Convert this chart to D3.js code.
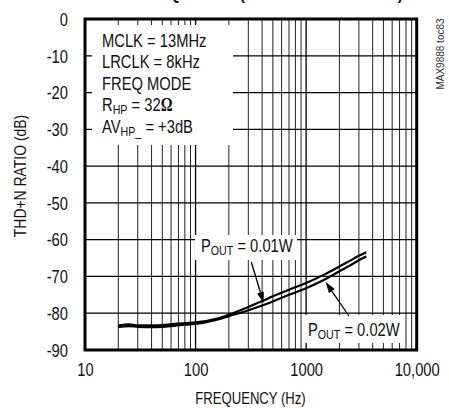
<!DOCTYPE html>
<html>
<head>
<meta charset="utf-8">
<script src="https://cdn.jsdelivr.net/npm/d3@7/dist/d3.min.js"></script>
<style>
  html, body { margin: 0; padding: 0; background: #fff; }
  svg { display: block; }
  text { font-family: "Liberation Sans", Arial, sans-serif; fill: #111; }
</style>
</head>
<body>
<svg id="chart" width="449" height="408"></svg>
<script>
// ---- data ----
const freqs = [20, 25, 30, 40, 50, 60, 80, 100, 150, 200, 300, 400, 500, 700, 1000, 1500, 2000, 2500, 3000, 3500];
const thdn001 = [-83.3, -83.0, -83.3, -83.3, -83.2, -83.0, -82.7, -82.5, -81.6, -80.4, -78.3, -76.7, -75.4, -73.6, -71.8, -69.3, -67.3, -65.7, -64.4, -63.4];
const thdn002 = [-83.7, -83.5, -83.7, -83.8, -83.7, -83.5, -83.1, -82.9, -81.9, -80.8, -79.2, -77.9, -76.8, -75.0, -73.2, -70.7, -68.6, -67.0, -65.6, -64.6];
const xTickValues = [10, 100, 1000, 10000];
const xTickLabels = ["10", "100", "1000", "10,000"];
const yTickValues = [0, -10, -20, -30, -40, -50, -60, -70, -80, -90];
const yTickLabels = ["0", "-10", "-20", "-30", "-40", "-50", "-60", "-70", "-80", "-90"];
const conditions = ["MCLK = 13MHz", "LRCLK = 8kHz", "FREQ MODE"];

const svg = d3.select("#chart");
const L = 85, R = 416.7, T = 19, B = 350;
const x = d3.scaleLog().domain([10, 10000]).range([L, R]);
const y = d3.scaleLinear().domain([0, -90]).range([T, B]);
const SX = 0.82; // narrow typeface factor

// title (mostly cut off at the top)
svg.append("text").attr("x", 110).attr("y", -0.5)
  .attr("textLength", 293).attr("lengthAdjust", "spacingAndGlyphs")
  .style("font-weight", "bold").style("font-size", "17px")
  .text("vs. FREQUENCY (HEADPHONE MODE)");

// grid
const minor = [];
for (let d = 10; d < 10000; d *= 10) for (let k = 1; k <= 9; k++) { const v = d * k; if (v > 10 && v < 10000) minor.push(v); }
svg.append("g").selectAll("line").data(minor).join("line")
  .attr("x1", d => x(d)).attr("x2", d => x(d)).attr("y1", T).attr("y2", B)
  .attr("stroke", d => (d === 100 || d === 1000) ? "#000" : "#222")
  .attr("stroke-width", d => (d === 100 || d === 1000) ? 1.3 : 1);
svg.append("g").selectAll("line").data(yTickValues.filter(v => v < 0 && v > -90)).join("line")
  .attr("x1", L).attr("x2", R).attr("y1", d => y(d)).attr("y2", d => y(d))
  .attr("stroke", "#000").attr("stroke-width", 1.2);

// white boxes behind annotations
svg.append("rect").attr("x", 92).attr("y", 25).attr("width", 141).attr("height", 120).attr("fill", "#fff");
svg.append("rect").attr("x", 195).attr("y", 235).attr("width", 102).attr("height", 25).attr("fill", "#fff");
svg.append("rect").attr("x", 303).attr("y", 315).attr("width", 102).attr("height", 28).attr("fill", "#fff");

// frame
svg.append("rect").attr("x", L).attr("y", T).attr("width", R - L).attr("height", B - T)
  .attr("fill", "none").attr("stroke", "#000").attr("stroke-width", 3);

// curves
const line = d3.line().x(d => x(d[0])).y(d => y(d[1])).curve(d3.curveMonotoneX);
[thdn001, thdn002].forEach(s => {
  svg.append("path").datum(freqs.map((f, i) => [f, s[i]]))
    .attr("d", line).attr("fill", "none").attr("stroke", "#000").attr("stroke-width", 2.2);
});

// axes
const fs = "18px";
const yAxis = svg.append("g").attr("transform", `translate(68,0)`)
  .call(d3.axisLeft(y).tickValues(yTickValues).tickSize(0).tickPadding(0)
    .tickFormat((d, i) => yTickLabels[i]));
yAxis.select(".domain").remove();
yAxis.selectAll("text").classed("n", true).style("font-size", fs).attr("dy", "0.35em")
  .style("font-family", "'Liberation Sans', Arial, sans-serif").style("fill", "#111");
const xAxis = svg.append("g").attr("transform", `translate(0,${B + 13})`)
  .call(d3.axisBottom(x).tickValues(xTickValues).tickSize(0).tickPadding(0)
    .tickFormat((d, i) => xTickLabels[i]));
xAxis.select(".domain").remove();
xAxis.selectAll("text").classed("n", true).style("font-size", fs).attr("dy", "0.71em")
  .style("font-family", "'Liberation Sans', Arial, sans-serif").style("fill", "#111");

svg.append("text").classed("n", true).attr("x", 250.5).attr("y", 404).attr("text-anchor", "middle")
  .style("font-size", "16px").text("FREQUENCY (Hz)");
svg.append("text").classed("n", true).attr("transform", "translate(26,176) rotate(-90)").attr("text-anchor", "middle")
  .style("font-size", "17px").text("THD+N RATIO (dB)");

// watermark
svg.append("text").attr("transform", "translate(444,54) rotate(-90)").attr("text-anchor", "middle")
  .style("font-size", "10px").style("fill", "#333").text("MAX9888 toc83");

// conditions
const cg = svg.append("g").style("font-size", fs);
conditions.forEach((t, i) => cg.append("text").classed("n", true).attr("x", 102).attr("y", 47 + i * 21.5).text(t));
const r1 = cg.append("text").classed("n", true).attr("x", 102).attr("y", 47 + 3 * 21.5);
r1.append("tspan").text("R");
r1.append("tspan").attr("dy", 3).style("font-size", "13px").text("HP");
r1.append("tspan").attr("dy", -3).text(" = 32");
r1.append("tspan").style("font-family", "'Liberation Serif', serif").style("font-weight", "bold").text("Ω");
const r2 = cg.append("text").classed("n", true).attr("x", 102).attr("y", 47 + 4 * 21.5);
r2.append("tspan").text("AV");
r2.append("tspan").attr("dy", 3).style("font-size", "13px").text("HP_");
r2.append("tspan").attr("dy", -3).text(" = +3dB");

// power labels
function pout(xp, yp, val) {
  const t = svg.append("text").classed("n", true).attr("x", xp).attr("y", yp).style("font-size", fs);
  t.append("tspan").text("P");
  t.append("tspan").attr("dy", 3).style("font-size", "13px").text("OUT");
  t.append("tspan").attr("dy", -3).text(" = " + val);
}
pout(201, 252, "0.01W");
pout(308, 336, "0.02W");

// condense text horizontally (around its anchor) to match the narrow typeface of the original
svg.selectAll("text.n").each(function () {
  const el = d3.select(this);
  const t0 = el.attr("transform") || "";
  const ax = +(el.attr("x") || 0), ay = +(el.attr("y") || 0);
  el.attr("transform", `${t0} translate(${ax},${ay}) scale(${SX},1) translate(${-ax},${-ay})`);
});

// arrows
function arrow(x0, y0, x1, y1) {
  const ang = Math.atan2(y1 - y0, x1 - x0);
  const len = 11, w = 3.5;
  const bx = x1 - len * Math.cos(ang), by = y1 - len * Math.sin(ang);
  svg.append("line").attr("x1", x0).attr("y1", y0).attr("x2", bx).attr("y2", by)
    .attr("stroke", "#000").attr("stroke-width", 1.3);
  const px = -Math.sin(ang) * w, py = Math.cos(ang) * w;
  svg.append("path").attr("d", `M${x1},${y1}L${bx + px},${by + py}L${bx - px},${by - py}Z`).attr("fill", "#000");
}
arrow(x(300) + 3, 262, x(430) - 2, y(-76.7) + 2);
arrow(349, 316, x(1500), y(-70.7) + 3);
</script>
</body>
</html>
